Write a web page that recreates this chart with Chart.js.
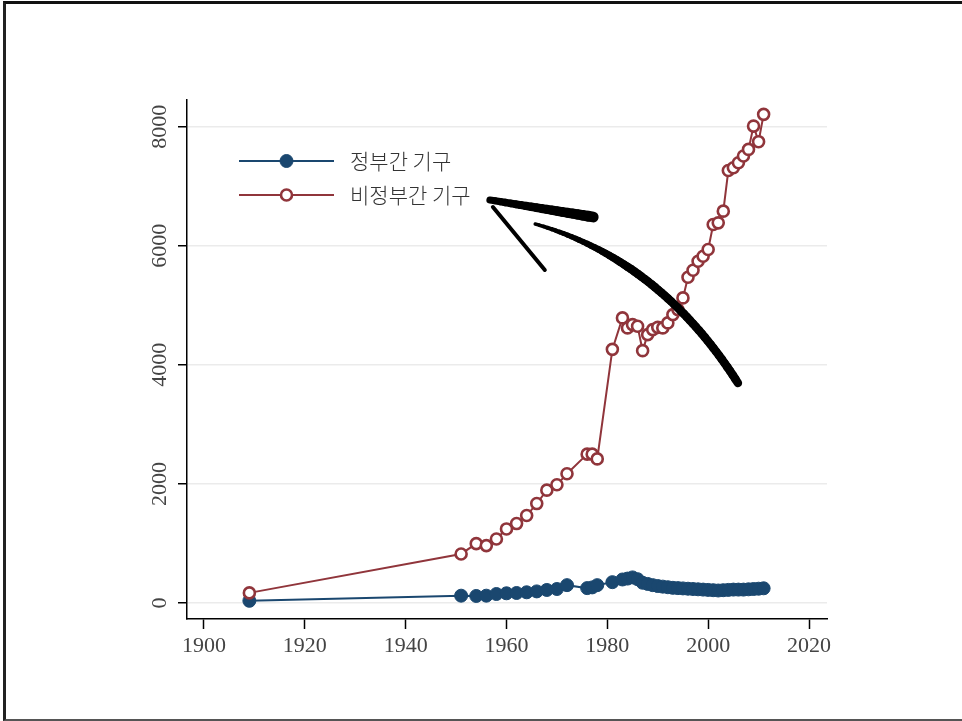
<!DOCTYPE html>
<html>
<head>
<meta charset="utf-8">
<script src="https://cdn.jsdelivr.net/npm/chart.js@4/dist/chart.umd.min.js"></script>
<style>
  html, body { margin: 0; padding: 0; background: #fff; overflow: hidden; }
  #frame {
    position: absolute; left: 3px; top: 1px; width: 975px; height: 715px;
    border-left: 3px solid #222; border-top: 3px solid #111; border-bottom: 2px solid #555;
  }
  #chart { position: absolute; left: 0; top: 0; }
</style>
</head>
<body>
<div id="frame"></div>
<canvas id="chart" width="962" height="721"></canvas>
<script>
// ── Data ──
const years = [1909, 1951, 1954, 1956, 1958, 1960, 1962, 1964, 1966, 1968, 1970, 1972,
    1976, 1977, 1978, 1981, 1983, 1984, 1985, 1986, 1987, 1988, 1989, 1990, 1991, 1992,
    1993, 1994, 1995, 1996, 1997, 1998, 1999, 2000, 2001, 2002, 2003, 2004, 2005, 2006,
    2007, 2008, 2009, 2010, 2011];
const govValues = [37, 123, 118, 123, 151, 163, 168, 180, 195, 219, 235, 300,
    250, 262, 300, 350, 395, 410, 430, 400, 340, 320, 300, 285, 275, 265,
    255, 250, 245, 240, 235, 230, 225, 220, 215, 210, 215, 220, 225, 225,
    225, 230, 235, 240, 247];
const ngoValues = [170, 824, 997, 964, 1076, 1244, 1334, 1469, 1670, 1895, 1985, 2170,
    2500, 2500, 2420, 4260, 4788, 4620, 4675, 4647, 4238, 4507, 4591, 4630, 4620, 4704,
    4843, 4928, 5124, 5471, 5589, 5740, 5824, 5937, 6357, 6385, 6581, 7265, 7311, 7395,
    7507, 7618, 8010, 7748, 8207];
const seriesLabels = ['정부간 기구', '비정부간 기구'];
const xTicks = [1900, 1920, 1940, 1960, 1980, 2000, 2020];
const yTicks = [0, 2000, 4000, 6000, 8000];

// hand-drawn arrow annotation, in data units (curve = start, control, end)
const arrowCurve = [[2005.9, 3695], [1990.4, 5761], [1965.7, 6366]];
const arrowHeadTop = [[1956.7, 6769], [1977.2, 6483]];
const arrowHeadLow = [[1957.3, 6651], [1967.6, 5593]];

const BLUE = '#1a476f';
const RED = '#90353b';
const SERIF = "'Liberation Serif', 'DejaVu Serif', serif";

const toXY = (vals) => vals.map((v, i) => ({ x: years[i], y: v }));

// ── Rotated y tick labels + inside legend + arrow ──
const decorPlugin = {
    id: 'decor',
    afterDraw(chart) {
        const ctx = chart.ctx;
        const xs = chart.scales.x, ys = chart.scales.y;

        // y tick labels, rotated
        ctx.save();
        ctx.font = '22px ' + SERIF;
        ctx.fillStyle = '#444';
        ctx.textAlign = 'center';
        ctx.textBaseline = 'middle';
        yTicks.forEach(v => {
            ctx.save();
            ctx.translate(160, ys.getPixelForValue(v));
            ctx.rotate(-Math.PI / 2);
            ctx.fillText(String(v), 0, 0);
            ctx.restore();
        });
        ctx.restore();

        // legend
        ctx.save();
        chart.data.datasets.slice().reverse().forEach((ds, i) => {
            const y = 161 + i * 34;
            ctx.strokeStyle = ds.borderColor;
            ctx.lineWidth = 1.8;
            ctx.beginPath();
            ctx.moveTo(239, y);
            ctx.lineTo(334, y);
            ctx.stroke();
            ctx.beginPath();
            ctx.arc(286.5, y, ds.pointRadius, 0, Math.PI * 2);
            ctx.fillStyle = ds.pointBackgroundColor;
            ctx.fill();
            ctx.lineWidth = ds.pointBorderWidth;
            ctx.strokeStyle = ds.pointBorderColor;
            ctx.stroke();
            ctx.font = "300 21px 'Noto Sans CJK KR', sans-serif";
            ctx.fillStyle = '#333';
            ctx.textAlign = 'left';
            ctx.textBaseline = 'middle';
            ctx.fillText(ds.label, 350, y);
        });
        ctx.restore();

        // arrow
        const px = p => [xs.getPixelForValue(p[0]), ys.getPixelForValue(p[1])];
        ctx.save();
        ctx.strokeStyle = '#000';
        ctx.lineCap = 'round';
        ctx.lineJoin = 'round';
        const [p0, c, p1] = arrowCurve.map(px);
        const steps = 60;
        let prev = p0;
        for (let j = 1; j <= steps; j++) {
            const t = j / steps, u = 1 - t;
            const pt = [u * u * p0[0] + 2 * u * t * c[0] + t * t * p1[0],
                        u * u * p0[1] + 2 * u * t * c[1] + t * t * p1[1]];
            ctx.lineWidth = t < 0.6 ? 8.5 : 8.5 - 5 * (t - 0.6) / 0.4;
            ctx.beginPath();
            ctx.moveTo(prev[0], prev[1]);
            ctx.lineTo(pt[0], pt[1]);
            ctx.stroke();
            prev = pt;
        }
        const a = arrowHeadTop.map(px);
        for (let j = 0; j < 20; j++) {
            const t0 = j / 20, t1 = (j + 1) / 20;
            ctx.lineWidth = 7 + 4 * t0;
            ctx.beginPath();
            ctx.moveTo(a[0][0] + (a[1][0] - a[0][0]) * t0, a[0][1] + (a[1][1] - a[0][1]) * t0);
            ctx.lineTo(a[0][0] + (a[1][0] - a[0][0]) * t1, a[0][1] + (a[1][1] - a[0][1]) * t1);
            ctx.stroke();
        }
        const b = arrowHeadLow.map(px);
        ctx.lineWidth = 4;
        ctx.beginPath();
        ctx.moveTo(b[0][0], b[0][1]);
        ctx.lineTo(b[1][0], b[1][1]);
        ctx.stroke();
        ctx.restore();
    }
};

new Chart(document.getElementById('chart'), {
    type: 'line',
    data: {
        datasets: [{
            label: seriesLabels[1],
            data: toXY(ngoValues),
            borderColor: RED,
            borderWidth: 2,
            pointRadius: 5.5,
            pointBorderWidth: 2.6,
            pointBackgroundColor: '#fff',
            pointBorderColor: RED
        }, {
            label: seriesLabels[0],
            data: toXY(govValues),
            borderColor: BLUE,
            borderWidth: 2,
            pointRadius: 6.5,
            pointBorderWidth: 1,
            pointBackgroundColor: BLUE,
            pointBorderColor: BLUE
        }]
    },
    options: {
        responsive: false,
        devicePixelRatio: 1,
        animation: false,
        layout: { padding: { top: 100, right: 135, left: 0, bottom: 0 } },
        plugins: { legend: { display: false }, tooltip: { enabled: false } },
        scales: {
            x: {
                type: 'linear',
                min: 1896.63,
                max: 2023.57,
                afterBuildTicks: s => { s.ticks = xTicks.map(v => ({ value: v })); },
                afterFit: s => { s.height = 102; },
                grid: { color: 'rgba(0,0,0,0)', tickColor: '#000', tickLength: 10, tickWidth: 1.5 },
                border: { color: '#000', width: 1.5 },
                ticks: {
                    color: '#444',
                    font: { family: SERIF, size: 22 },
                    padding: 4,
                    maxRotation: 0,
                    callback: v => String(v)
                }
            },
            y: {
                min: -268.7,
                max: 8448,
                afterBuildTicks: s => { s.ticks = yTicks.map(v => ({ value: v })); },
                afterFit: s => { s.width = 187; },
                grid: { color: '#ebebeb', lineWidth: 1.5, tickColor: '#000', tickLength: 9, tickWidth: 1.5 },
                border: { color: '#000', width: 1.5 },
                ticks: { display: false }
            }
        }
    },
    plugins: [decorPlugin]
});
</script>
</body>
</html>
